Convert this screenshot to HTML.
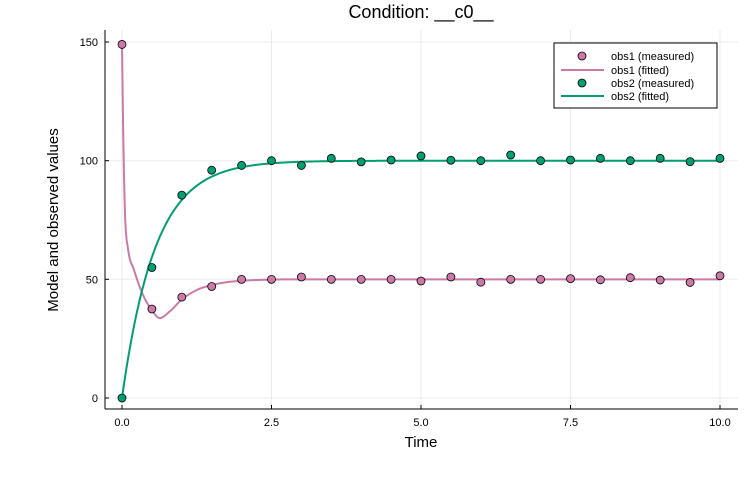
<!DOCTYPE html>
<html><head><meta charset="utf-8"><style>body{margin:0;background:#fff}svg{display:block}text{font-family:"Liberation Sans","DejaVu Sans",sans-serif}</style></head>
<body>
<svg id="s" width="750" height="500" xmlns="http://www.w3.org/2000/svg">
<rect width="750" height="500" fill="#fff"/>
<g stroke="#ebebeb" stroke-width="1">
<line x1="122" y1="30" x2="122" y2="409"/><line x1="271.5" y1="30" x2="271.5" y2="409"/><line x1="421" y1="30" x2="421" y2="409"/><line x1="570.5" y1="30" x2="570.5" y2="409"/><line x1="720" y1="30" x2="720" y2="409"/>
<line x1="105" y1="42" x2="738" y2="42"/><line x1="105" y1="160.7" x2="738" y2="160.7"/><line x1="105" y1="279.3" x2="738" y2="279.3"/><line x1="105" y1="398" x2="738" y2="398"/>
</g>
<g stroke="#000" stroke-width="1">
<line x1="105" y1="409" x2="738" y2="409"/><line x1="105" y1="30" x2="105" y2="409"/>
<line x1="122" y1="409" x2="122" y2="405"/><line x1="271.5" y1="409" x2="271.5" y2="405"/><line x1="421" y1="409" x2="421" y2="405"/><line x1="570.5" y1="409" x2="570.5" y2="405"/><line x1="720" y1="409" x2="720" y2="405"/>
<line x1="105" y1="42" x2="109" y2="42"/><line x1="105" y1="160.7" x2="109" y2="160.7"/><line x1="105" y1="279.3" x2="109" y2="279.3"/><line x1="105" y1="398" x2="109" y2="398"/>
</g>
<g font-size="11" fill="#000" text-anchor="middle">
<text x="122" y="426">0.0</text><text x="271.5" y="426">2.5</text><text x="421" y="426">5.0</text><text x="570.5" y="426">7.5</text><text x="720" y="426">10.0</text>
</g>
<g font-size="11" fill="#000" text-anchor="end">
<text x="98" y="46">150</text><text x="98" y="164.7">100</text><text x="98" y="283.3">50</text><text x="98" y="402">0</text>
</g>
<text x="421" y="447" font-size="15" text-anchor="middle">Time</text>
<text transform="translate(58,220) rotate(-90)" font-size="15" text-anchor="middle">Model and observed values</text>
<text x="421" y="18" font-size="18" text-anchor="middle">Condition: __c0__</text>
<g id="curves"></g>
<g id="pts" stroke="#000" stroke-width="0.8"></g>
<rect x="554" y="43" width="163" height="65" fill="#fff" stroke="#000" stroke-width="1"/>
<circle cx="582" cy="56" r="4" fill="#cc79a7" stroke="#000" stroke-width="0.8"/>
<line x1="561" y1="70" x2="604" y2="70" stroke="#cc79a7" stroke-width="2"/>
<circle cx="582" cy="83" r="4" fill="#009e73" stroke="#000" stroke-width="0.8"/>
<line x1="561" y1="96" x2="604" y2="96" stroke="#009e73" stroke-width="2"/>
<g font-size="11" fill="#000"><text x="611" y="60">obs1 (measured)</text><text x="611" y="74">obs1 (fitted)</text><text x="611" y="87">obs2 (measured)</text><text x="611" y="100">obs2 (fitted)</text></g>
</svg>
<script>
var X=t=>122+59.8*t, Y=v=>398-2.373*v;
var K=[[0,149],[0.02,112],[0.05,78],[0.1,63],[0.2,54],[0.35,43.5],[0.5,37],[0.63,33.7],[0.8,36.5],[1,41.5],[1.25,45.5],[1.5,47.6],[1.75,48.8],[2,49.4],[2.5,49.9],[3,50],[10,50]];
// monotone cubic
var n=K.length,d=[],m=[];
for(var i=0;i<n-1;i++)d.push((K[i+1][1]-K[i][1])/(K[i+1][0]-K[i][0]));
m[0]=d[0];m[n-1]=d[n-2];
for(var i=1;i<n-1;i++){m[i]=(d[i-1]*d[i]<=0)?0:(d[i-1]+d[i])/2;}
for(var i=0;i<n-1;i++){if(d[i]==0){m[i]=m[i+1]=0;continue;}var a=m[i]/d[i],b=m[i+1]/d[i],s=a*a+b*b;if(s>9){var tt=3/Math.sqrt(s);m[i]=tt*a*d[i];m[i+1]=tt*b*d[i];}}
function f1(t){for(var i=0;i<n-1;i++){if(t<=K[i+1][0]){var h=K[i+1][0]-K[i][0],u=(t-K[i][0])/h,u2=u*u,u3=u2*u;return (2*u3-3*u2+1)*K[i][1]+(u3-2*u2+u)*h*m[i]+(-2*u3+3*u2)*K[i+1][1]+(u3-u2)*h*m[i+1];}}return 50;}
function f2(t){return 100*(1-Math.exp(-1.8*t));}
var p1="",p2="";
for(var i=0;i<=2000;i++){var t=i/200;p1+=(i?"L":"M")+X(t).toFixed(2)+","+Y(f1(t)).toFixed(2);p2+=(i?"L":"M")+X(t).toFixed(2)+","+Y(f2(t)).toFixed(2);}
document.getElementById("curves").innerHTML='<path d="'+p1+'" fill="none" stroke="#cc79a7" stroke-width="2"/><path d="'+p2+'" fill="none" stroke="#009e73" stroke-width="2"/>';
var o1=[149,37.5,42.5,47,50,50,51,50,50,50,49.3,51,48.8,50,50,50.3,49.8,50.7,49.7,48.7,51.5];
var o2=[0,55,85.5,96,98,100,98,101,99.5,100.3,102,100.2,100,102.4,100,100.3,101,100,101,99.6,101];
var h="";
o1.forEach((v,i)=>{h+='<circle cx="'+X(i/2)+'" cy="'+Y(v)+'" r="4" fill="#cc79a7"/>';});
o2.forEach((v,i)=>{h+='<circle cx="'+X(i/2)+'" cy="'+Y(v)+'" r="4" fill="#009e73"/>';});
document.getElementById("pts").innerHTML=h;
</script>
</body></html>
